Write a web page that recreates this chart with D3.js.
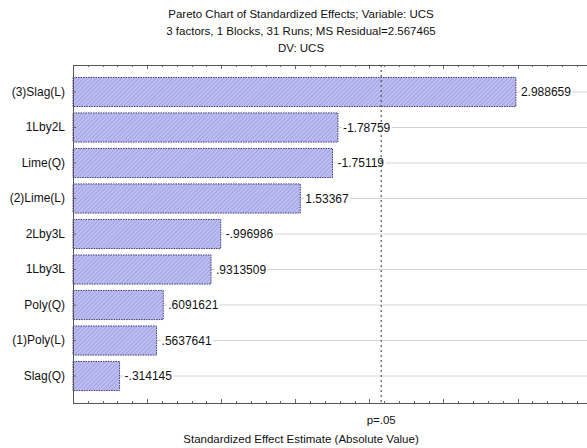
<!DOCTYPE html>
<html>
<head>
<meta charset="utf-8">
<script src="https://cdn.jsdelivr.net/npm/d3@7"></script>
<style>
  html, body { margin: 0; padding: 0; background: #fff; }
  svg { display: block; font-family: "Liberation Sans", Arial, sans-serif; }
</style>
</head>
<body>
<svg id="chart" width="587" height="448"></svg>
<script>
// Effect names, ordered by absolute standardized effect
const effects = ["(3)Slag(L)", "1Lby2L", "Lime(Q)", "(2)Lime(L)", "2Lby3L", "1Lby3L", "Poly(Q)", "(1)Poly(L)", "Slag(Q)"];
// Signed standardized effect estimates (t-values)
const estimates = [2.988659, -1.78759, -1.75119, 1.53367, -0.996986, 0.9313509, 0.6091621, 0.5637641, -0.314145];
// Printed value labels
const estimateLabels = ["2.988659", "-1.78759", "-1.75119", "1.53367", "-.996986", ".9313509", ".6091621", ".5637641", "-.314145"];
// Critical t value for p = .05 (21 residual df)
const pCritical = 2.079614;
const pLabel = "p=.05";
const titleLines = [
  "Pareto Chart of Standardized Effects; Variable: UCS",
  "3 factors, 1 Blocks, 31 Runs; MS Residual=2.567465",
  "DV: UCS"
];
const xTitle = "Standardized Effect Estimate (Absolute Value)";

const svg = d3.select("#chart");
const W = 587, H = 448;
const margin = { left: 73, top: 65, bottom: 45 };
const plotTop = margin.top, plotBottom = H - margin.bottom;
const plotLeft = margin.left;

const x = d3.scaleLinear().domain([0, 3.5]).range([plotLeft, plotLeft + 3.5 * 148.2]);
const y = d3.scaleBand().domain(effects).range([plotTop, plotBottom]).paddingInner(0.18).paddingOuter(0.35);

// hatch pattern for the bars
const defs = svg.append("defs");
const pat = defs.append("pattern")
  .attr("id", "hatch").attr("patternUnits", "userSpaceOnUse")
  .attr("width", 3).attr("height", 3)
  .attr("patternTransform", "rotate(45)");
pat.append("rect").attr("width", 3).attr("height", 3).attr("fill", "#bebef3");
pat.append("line").attr("x1", 0).attr("y1", 0).attr("x2", 0).attr("y2", 3)
  .attr("stroke", "#8a8ad6").attr("stroke-width", 1.1);

// title
svg.append("g").selectAll("text").data(titleLines).join("text")
  .attr("x", 301).attr("y", (d, i) => 18 + i * 17)
  .attr("text-anchor", "middle").attr("font-size", 11.5).attr("fill", "#111")
  .text(d => d);

// horizontal grid lines at each effect
svg.append("g").selectAll("line").data(effects).join("line")
  .attr("x1", plotLeft).attr("x2", W)
  .attr("y1", d => y(d) + y.bandwidth() / 2).attr("y2", d => y(d) + y.bandwidth() / 2)
  .attr("stroke", "#d4d4d4").attr("stroke-width", 1);

// bars of absolute effect size
svg.append("g").selectAll("rect").data(effects).join("rect")
  .attr("x", x(0)).attr("y", d => y(d))
  .attr("width", (d, i) => x(Math.abs(estimates[i])) - x(0))
  .attr("height", y.bandwidth())
  .attr("fill", "url(#hatch)")
  .attr("stroke", "#3d3d72").attr("stroke-width", 1).attr("stroke-dasharray", "1.5,1");

// value labels with white backing
const lab = svg.append("g").selectAll("g").data(effects).join("g")
  .attr("transform", (d, i) => `translate(${x(Math.abs(estimates[i])) + 5},${y(d) + y.bandwidth() / 2})`);
lab.append("text")
  .attr("dy", "0.35em").attr("font-size", 12).attr("fill", "#111")
  .text((d, i) => estimateLabels[i])
  .each(function () {
    const b = this.getBBox();
    d3.select(this.parentNode).insert("rect", "text")
      .attr("x", b.x - 1).attr("y", b.y + 2).attr("width", b.width + 2).attr("height", b.height - 4)
      .attr("fill", "#fff");
  });

// p = .05 reference line
svg.append("line")
  .attr("x1", x(pCritical)).attr("x2", x(pCritical))
  .attr("y1", plotTop).attr("y2", plotBottom)
  .attr("stroke", "#555").attr("stroke-width", 1.2).attr("stroke-dasharray", "2,3");

// frame: top, bottom, left
const frame = svg.append("g").attr("stroke", "#555").attr("stroke-width", 1);
frame.append("line").attr("x1", plotLeft).attr("x2", W).attr("y1", plotTop + 0.5).attr("y2", plotTop + 0.5);
frame.append("line").attr("x1", plotLeft).attr("x2", W).attr("y1", plotBottom + 0.5).attr("y2", plotBottom + 0.5);
frame.append("line").attr("x1", plotLeft + 0.5).attr("x2", plotLeft + 0.5).attr("y1", plotTop).attr("y2", plotBottom);

// inward ticks on top and bottom edges: minor every 0.1, major every 0.5
const minorTicks = d3.range(1, 35).map(v => v / 10);
const tickG = svg.append("g").attr("stroke", "#666").attr("stroke-width", 1);
minorTicks.forEach(v => {
  const major = Math.abs(v * 2 - Math.round(v * 2)) < 1e-6;
  const len = major ? 4 : 2;
  const xx = Math.round(x(v)) + 0.5;
  tickG.append("line").attr("x1", xx).attr("x2", xx).attr("y1", plotTop).attr("y2", plotTop + len);
  tickG.append("line").attr("x1", xx).attr("x2", xx).attr("y1", plotBottom).attr("y2", plotBottom - len);
});

// y axis labels with small inward ticks
const yAxis = d3.axisLeft(y).tickSize(0).tickPadding(8);
const yg = svg.append("g").attr("transform", `translate(${plotLeft},0)`).call(yAxis);
yg.select(".domain").remove();
yg.selectAll("text").attr("font-size", 12).attr("fill", "#111").attr("font-family", "Liberation Sans, Arial, sans-serif");
svg.append("g").selectAll("line").data(effects).join("line")
  .attr("x1", plotLeft).attr("x2", plotLeft + 3)
  .attr("y1", d => y(d) + y.bandwidth() / 2).attr("y2", d => y(d) + y.bandwidth() / 2)
  .attr("stroke", "#666");

// p label and axis title
svg.append("text").attr("x", x(pCritical)).attr("y", 424)
  .attr("text-anchor", "middle").attr("font-size", 11.5).attr("fill", "#111").text(pLabel);
svg.append("text").attr("x", 301).attr("y", 443)
  .attr("text-anchor", "middle").attr("font-size", 11.5).attr("fill", "#111").text(xTitle);
</script>
</body>
</html>
